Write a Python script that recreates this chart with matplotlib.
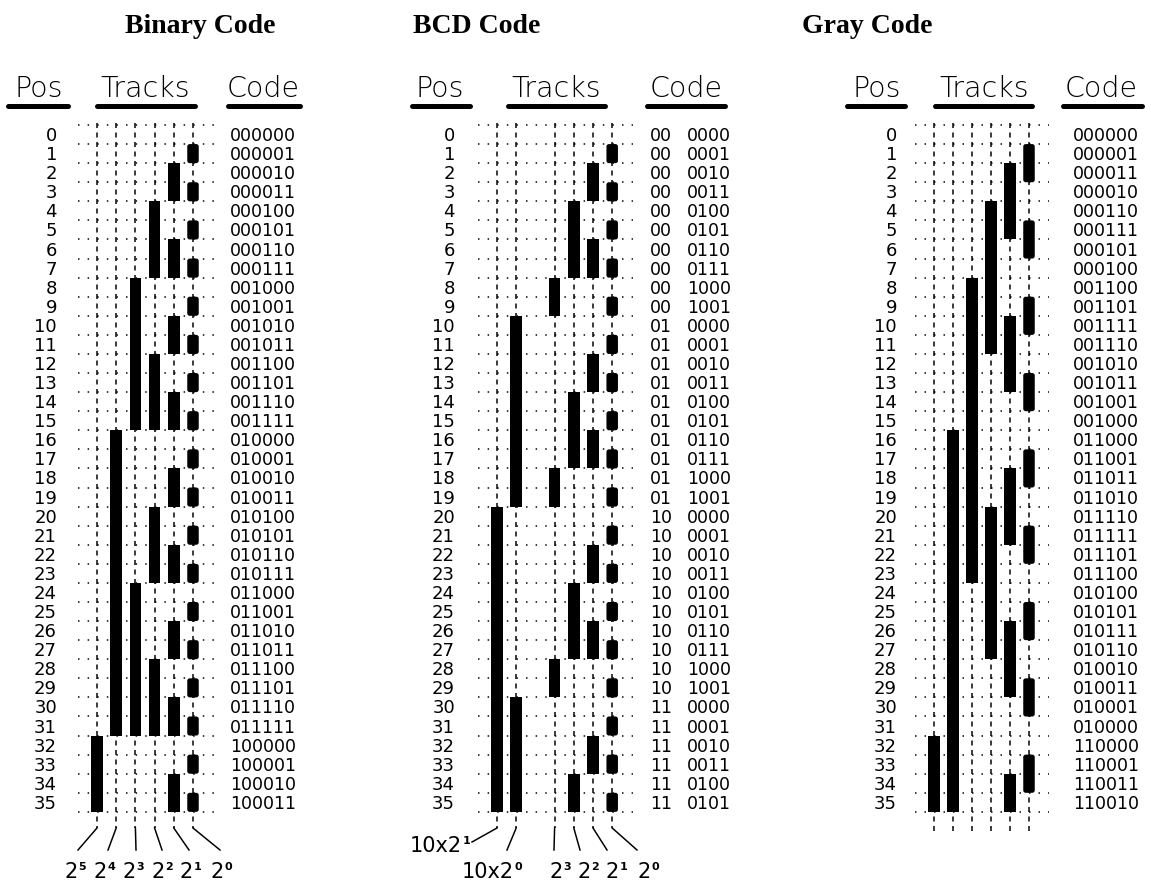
import matplotlib.pyplot as plt
from matplotlib.patches import Rectangle, FancyBboxPatch

plt.rcParams['lines.scale_dashes'] = False

# --- Daten ---
titles = ['Binary Code', 'BCD Code', 'Gray Code']
headers = ['Pos', 'Tracks', 'Code']
pos_labels = [str(i) for i in range(36)]

binary_codes = [
    '000000', '000001', '000010', '000011', '000100', '000101', '000110', '000111',
    '001000', '001001', '001010', '001011', '001100', '001101', '001110', '001111',
    '010000', '010001', '010010', '010011', '010100', '010101', '010110', '010111',
    '011000', '011001', '011010', '011011', '011100', '011101', '011110', '011111',
    '100000', '100001', '100010', '100011',
]
bcd_codes = [
    '00 0000', '00 0001', '00 0010', '00 0011', '00 0100', '00 0101', '00 0110',
    '00 0111', '00 1000', '00 1001',
    '01 0000', '01 0001', '01 0010', '01 0011', '01 0100', '01 0101', '01 0110',
    '01 0111', '01 1000', '01 1001',
    '10 0000', '10 0001', '10 0010', '10 0011', '10 0100', '10 0101', '10 0110',
    '10 0111', '10 1000', '10 1001',
    '11 0000', '11 0001', '11 0010', '11 0011', '11 0100', '11 0101',
]
gray_codes = [
    '000000', '000001', '000011', '000010', '000110', '000111', '000101', '000100',
    '001100', '001101', '001111', '001110', '001010', '001011', '001001', '001000',
    '011000', '011001', '011011', '011010', '011110', '011111', '011101', '011100',
    '010100', '010101', '010111', '010110', '010010', '010011', '010001', '010000',
    '110000', '110001', '110011', '110010',
]
binary_track_labels = [('2', '5'), ('2', '4'), ('2', '3'), ('2', '2'), ('2', '1'), ('2', '0')]
bcd_track_labels = [('10x2', '1'), ('10x2', '0'), ('2', '3'), ('2', '2'), ('2', '1'), ('2', '0')]

# --- Layout (Pixel, dpi=100) ---
PX = 0.72                 # Punkte pro Pixel
ROW_TOP, ROW_H = 125, 19.08
N_ROWS = 36
BAR_W = 11.5


def row_y(i):
    return ROW_TOP + i * ROW_H


panels = [
    dict(title=titles[0], title_x=200, codes=binary_codes, pos_x=57,
         x0=97, step=19.2, slots=[0, 1, 2, 3, 4, 5], n_slots=6, code_x=230,
         head_c=[39, 145, 263], line_ext=[(8, 68), (97, 195), (228, 300)],
         labels=binary_track_labels,
         leader_end=[(78, 850), (108, 850), (136, 850), (162, 850), (189, 850), (220, 850)],
         label_pos=[(78, 878), (107, 878), (136, 878), (165, 878), (193, 878), (224, 878)]),
    dict(title=titles[1], title_x=477, codes=bcd_codes, pos_x=455,
         x0=497, step=19.2, slots=[0, 1, 3, 4, 5, 6], n_slots=7, code_x=(650, 687),
         head_c=[440, 556, 686], line_ext=[(412, 470), (508, 605), (647, 725)],
         labels=bcd_track_labels,
         leader_end=[(472, 842), (507, 850), (554, 850), (580, 850), (607, 850), (637, 850)],
         label_pos=[(462, 852), (514, 878), (563, 878), (591, 878), (619, 878), (651, 878)]),
    dict(title=titles[2], title_x=867, codes=gray_codes, pos_x=897,
         x0=934, step=19.0, slots=[0, 1, 2, 3, 4, 5], n_slots=6, code_x=1073,
         head_c=[877, 984, 1101], line_ext=[(847, 905), (935, 1032), (1063, 1142)],
         labels=None, leader_end=None, label_pos=None),
]

fig = plt.figure(figsize=(11.51, 8.84), dpi=100)
ax = fig.add_axes([0, 0, 1, 1])
ax.set_xlim(0, 1151)
ax.set_ylim(884, 0)
ax.axis('off')

thin = dict(family='DejaVu Sans', fontweight='light')

for p in panels:
    # Titel
    ax.text(p['title_x'], 33, p['title'], ha='center', va='baseline',
            family='Liberation Serif', fontweight='bold', fontsize=20)

    # Spaltenköpfe mit Balken
    for name, cx, (a, b) in zip(headers, p['head_c'], p['line_ext']):
        ax.text(cx, 97, name, ha='center', va='baseline', fontsize=20.5, **thin)
        ax.plot([a, b], [105.5, 105.5], color='black', lw=5 * PX,
                solid_capstyle='round')

    x0, step = p['x0'], p['step']
    grid_l = x0 - step
    grid_r = x0 + p['n_slots'] * step

    # gepunktete Zeilenlinien
    for i in range(N_ROWS + 1):
        ax.plot([grid_l, grid_r + 1.5], [row_y(i)] * 2, color='black', lw=1.5 * PX,
                linestyle=(0, (1.5 * PX, (step / 2 - 1.5) * PX)),
                dash_capstyle='butt', zorder=1)

    # gestrichelte Spuren
    bottom = row_y(N_ROWS)
    track_end = 828 if p['labels'] else 833
    for s in p['slots']:
        x = x0 + s * step
        ax.plot([x, x], [ROW_TOP - 2, track_end], color='black', lw=1.5 * PX,
                linestyle=(0, (5 * PX, 4.5 * PX)), dash_capstyle='butt', zorder=1)

    # Balken (Bit = 1)
    codes = [c.replace(' ', '') for c in p['codes']]
    n_bits = len(codes[0])
    for b, s in enumerate(p['slots']):
        x = x0 + s * step
        start = None
        for i in range(N_ROWS + 1):
            on = i < N_ROWS and codes[i][b] == '1'
            if on and start is None:
                start = i
            elif not on and start is not None:
                y0 = row_y(start)
                h = row_y(i) - y0
                if b == n_bits - 1:
                    patch = FancyBboxPatch((x - BAR_W / 2, y0), BAR_W, h,
                                           boxstyle='round,pad=0,rounding_size=2.5',
                                           fc='black', ec='none', zorder=3)
                else:
                    patch = Rectangle((x - BAR_W / 2, y0), BAR_W, h,
                                      fc='black', ec='none', zorder=3)
                ax.add_patch(patch)
                start = None

    # Pos- und Code-Spalten
    for i, lab in enumerate(pos_labels):
        yb = row_y(i) + ROW_H / 2 + 6.5
        ax.text(p['pos_x'], yb, lab, ha='right', va='baseline', fontsize=13,
                family='DejaVu Sans')
        code = p['codes'][i]
        if isinstance(p['code_x'], tuple):
            left, right = code.split(' ')
            ax.text(p['code_x'][0], yb, left, ha='left', va='baseline',
                    fontsize=12.5, family='DejaVu Sans')
            ax.text(p['code_x'][1], yb, right, ha='left', va='baseline',
                    fontsize=12.5, family='DejaVu Sans')
        else:
            ax.text(p['code_x'], yb, code, ha='left', va='baseline',
                    fontsize=12.5, family='DejaVu Sans')

    # Zuleitungen und Wertigkeiten
    if p['labels']:
        for s, (ex, ey), (lx, ly), (base, expo) in zip(
                p['slots'], p['leader_end'], p['label_pos'], p['labels']):
            x = x0 + s * step
            ax.plot([x, ex], [track_end, ey], color='black', lw=1.5 * PX)
            ax.text(lx, ly, base, ha='right', va='baseline', fontsize=15,
                    family='DejaVu Sans')
            ax.text(lx + 0.5, ly - 16, expo, ha='left', va='top', fontsize=8,
                    family='DejaVu Sans', fontweight='bold')

fig.savefig('out.png', dpi=100)
